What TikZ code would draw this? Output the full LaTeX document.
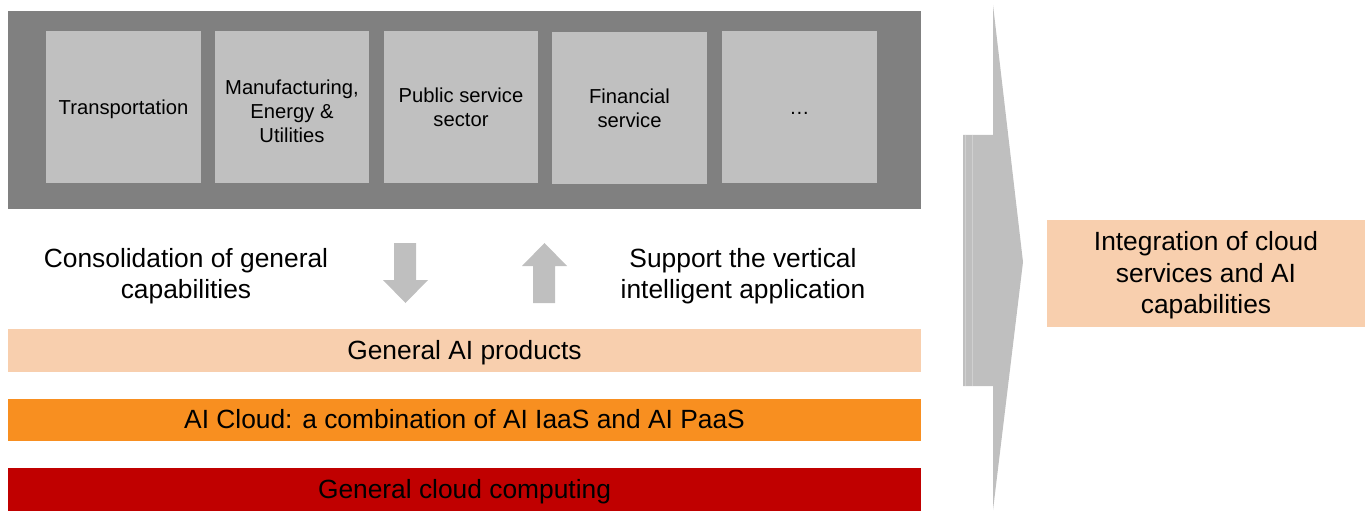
\documentclass[tikz,border=0pt]{standalone}
\usepackage{fontspec}
\setmainfont{Liberation Sans}
\usetikzlibrary{positioning}

\definecolor{panelgray}{RGB}{128,128,128}
\definecolor{boxgray}{RGB}{192,192,192}
\definecolor{arrowgray}{RGB}{191,191,191}
\definecolor{streakgray}{RGB}{208,208,208}
\definecolor{peach}{RGB}{248,207,174}
\definecolor{aiorange}{RGB}{248,143,32}
\definecolor{cloudred}{RGB}{192,0,0}

% text set a little lower inside its box
\newcommand{\lowtext}[2][0.05cm]{\raisebox{-#1}[\height][\depth]{\begin{tabular}{@{}c@{}}#2\end{tabular}}}

\begin{document}
\begin{tikzpicture}[x=0.02cm,y=-0.02cm,
    sector/.style={fill=boxgray,minimum width=3.1cm,minimum height=3.04cm,
      inner sep=0pt,font=\fontsize{11.5}{13.8}\selectfont},
    layer/.style={minimum width=18.26cm,minimum height=0.85cm,inner sep=0pt,
      font=\fontsize{15}{18}\selectfont},
    caption/.style={align=center,inner sep=0pt,font=\fontsize{15}{17.8}\selectfont}]
      \useasboundingbox (0,0) rectangle (1365,513);
      % industries on top
      \node[fill=panelgray,minimum width=18.26cm,minimum height=3.96cm,inner sep=0pt] (panel) at (464.5,110) {};
      \node[sector] (trans) at (123.5,107) {\lowtext{Transportation}};
      \node[sector] (manuf) at (292,107) {\lowtext[0.13cm]{Manufacturing,\\Energy \&\\Utilities}};
      \node[sector] (public) at (461,107) {\lowtext{Public service\\sector}};
      \node[sector] (finance) at (629.5,108) {\lowtext{Financial\\service}};
      \node[sector] (more) at (799.5,107) {\lowtext{…}};
      % captions and small arrows
      \node[caption] (consol) at (186,276) {Consolidation of general\\capabilities};
      \node[caption] (support) at (743,276) {Support the vertical\\intelligent application};
      \fill[arrowgray] (394,243) -- (416,243) -- (416,280) -- (428,280) -- (405.5,303)
        -- (383,280) -- (394,280) -- cycle;
      \fill[arrowgray] (544.5,243) -- (567,266) -- (555,266) -- (555,303) -- (533,303)
        -- (533,266) -- (522,266) -- cycle;
      % layers
      \node[layer,fill=peach] (products) at (464.5,350.5) {\lowtext{General AI products}};
      \node[layer,fill=aiorange] (aicloud) at (464.5,420) {\lowtext{AI Cloud: a combination of AI IaaS and AI PaaS}};
      \node[layer,fill=cloudred] (cloud) at (464.5,489.5) {\lowtext{General cloud computing}};
      % big arrow and result
      \fill[arrowgray] (963,135) -- (993,135) -- (993,5) -- (1023,262) -- (993,510)
        -- (993,386) -- (963,386) -- cycle;
      \draw[streakgray,line width=0.6pt] (965.5,135) -- (965.5,386) (972.5,135) -- (972.5,386);
      \node[fill=peach,minimum width=6.36cm,minimum height=2.14cm,inner sep=0pt,
        font=\fontsize{15}{17.8}\selectfont] (integ) at (1206,273.5)
        {\lowtext{Integration of cloud\\services and AI\\capabilities}};
    \end{tikzpicture}
\end{document}
